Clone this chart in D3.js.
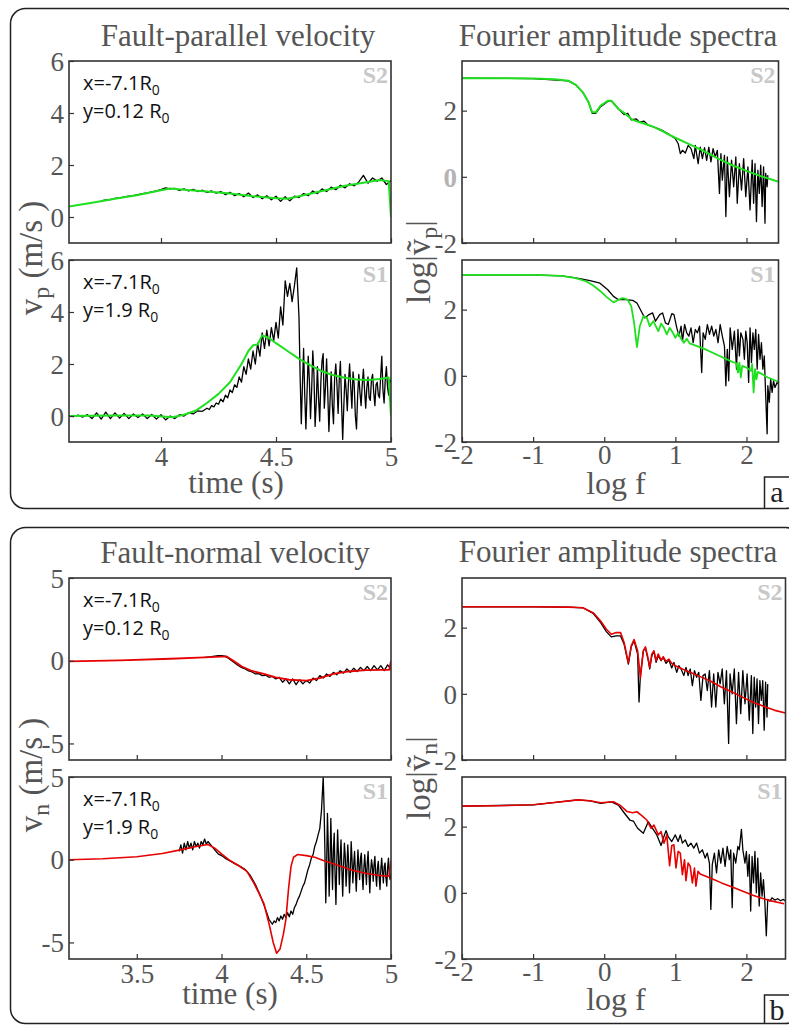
<!DOCTYPE html>
<html>
<head>
<meta charset="utf-8">
<script src="https://cdn.jsdelivr.net/npm/d3@7"></script>
<style>
body { margin: 0; background: #fff; }
svg { display: block; }
</style>
</head>
<body>
<svg id="fig" width="789" height="1026"></svg>
<script>
// ---- tick values ----
var vpTicks = [0, 2, 4, 6];
var vnTicks = [-5, 0, 5];
var fasTicks = [-2, 0, 2];
var fTicks = [-2, -1, 0, 1, 2];
var tTicksA = [4, 4.5, 5];
var tTicksB = [3.5, 4, 4.5, 5];

// ---- fault-parallel velocity, station S2 (time s, m/s) ----
var vpS2Syn = [[3.6,0.4],[3.7,0.55],[3.8,0.7],[3.9,0.85],[4.0,1.03],[4.04,1.1],[4.1,1.05],[4.2,0.98],[4.3,0.9],[4.4,0.8],[4.5,0.72],[4.55,0.7],[4.6,0.8],[4.7,1.0],[4.8,1.2],[4.9,1.35],[4.95,1.42],[4.99,1.38],[5.0,0.0]];
var vpS2Obs = [[3.74,0.62],[3.76,0.66],[3.78,0.67],[3.80,0.72],[3.82,0.73],[3.84,0.77],[3.86,0.8],[3.88,0.82],[3.90,0.86],[3.92,0.9],[3.94,0.93],[3.96,0.97],[3.98,1.0],[4.00,1.05],[4.02,1.12],[4.04,1.08],[4.06,1.1],[4.08,1.02],[4.10,1.08],[4.12,1.0],[4.14,1.06],[4.16,0.98],[4.18,1.03],[4.20,0.95],[4.22,1.0],[4.24,0.92],[4.26,0.98],[4.28,0.86],[4.30,0.95],[4.32,0.82],[4.34,0.9],[4.36,0.78],[4.38,0.92],[4.40,0.75],[4.42,0.85],[4.44,0.7],[4.46,0.82],[4.48,0.66],[4.50,0.8],[4.52,0.6],[4.54,0.78],[4.56,0.62],[4.58,0.8],[4.60,0.75],[4.62,0.9],[4.64,0.82],[4.66,1.0],[4.68,0.9],[4.70,1.08],[4.72,0.98],[4.74,1.15],[4.76,1.05],[4.78,1.22],[4.80,1.12],[4.82,1.28],[4.84,1.2],[4.86,1.35],[4.88,1.6],[4.90,1.3],[4.92,1.5],[4.94,1.38],[4.96,1.5],[4.98,1.25],[5.00,1.4]];

// ---- fault-parallel velocity, station S1 ----
var vpS1Syn = [[3.6,0.0],[3.8,0.02],[3.95,0.02],[4.05,-0.05],[4.1,0.05],[4.15,0.2],[4.2,0.5],[4.25,0.85],[4.3,1.3],[4.35,2.0],[4.38,2.5],[4.4,2.72],[4.42,2.75],[4.44,3.1],[4.47,3.0],[4.5,2.8],[4.55,2.5],[4.6,2.2],[4.65,1.95],[4.7,1.72],[4.75,1.57],[4.8,1.47],[4.85,1.4],[4.9,1.38],[4.95,1.42],[4.99,1.48],[5.0,0.0]];
var vpS1Obs = [[3.60,0.02],[3.62,-0.02],[3.64,0.03],[3.66,-0.04],[3.68,0.05],[3.70,-0.1],[3.72,0.12],[3.74,-0.12],[3.76,0.15],[3.78,-0.1],[3.80,0.12],[3.82,-0.08],[3.84,0.1],[3.86,-0.1],[3.88,0.08],[3.90,-0.06],[3.92,0.08],[3.94,-0.1],[3.96,0.06],[3.98,-0.12],[4.00,0.05],[4.02,-0.15],[4.04,0.0],[4.06,-0.1],[4.08,0.05],[4.10,0.0],[4.12,0.12],[4.14,0.08],[4.16,0.2],[4.18,0.18],[4.20,0.3],
  [4.21,0.25],[4.22,0.4],[4.23,0.35],[4.24,0.5],[4.25,0.45],[4.26,0.65],[4.27,0.55],[4.28,0.8],[4.29,0.7],[4.30,1.0],[4.31,0.9],[4.32,1.2],[4.33,1.1],[4.34,1.5],[4.35,1.3],[4.36,1.9],[4.37,1.6],[4.38,2.2],[4.39,1.8],[4.40,2.5],[4.41,2.0],[4.42,2.8],[4.43,2.3],[4.44,3.2],[4.45,2.6],[4.46,3.3],[4.47,2.7],[4.48,3.4],[4.49,2.9],[4.50,3.6],[4.51,3.0],[4.52,4.2],[4.53,3.5],[4.54,5.2],[4.55,4.6],[4.56,5.1],[4.57,4.4],[4.58,5.0],[4.59,5.7],
  [4.600,3.8],[4.605,1.5],[4.610,-0.3],[4.615,1.2],[4.620,2.6],[4.625,0.8],[4.630,-0.5],[4.635,0.9],[4.640,2.3],[4.645,1.4],[4.650,-0.1],[4.655,1.0],[4.660,2.5],[4.665,1.6],[4.670,-0.4],[4.675,0.5],[4.680,1.9],[4.685,0.7],[4.690,-0.2],[4.695,1.3],[4.700,2.1],[4.705,2.4],[4.710,0.3],[4.715,1.1],[4.720,2.2],[4.725,0.9],[4.730,-0.6],[4.735,0.6],[4.740,1.7],[4.745,0.4],[4.750,-0.3],[4.755,1.5],[4.760,2.0],[4.765,1.2],[4.770,0.1],[4.775,1.4],[4.780,2.1],[4.785,0.5],[4.790,-0.9],[4.795,0.4],[4.800,1.6],[4.805,1.0],[4.810,0.2],[4.815,1.3],[4.820,2.0],[4.825,1.1],[4.830,0.3],[4.835,1.7],[4.840,1.2],[4.845,0.0],[4.850,-0.5],[4.855,0.8],[4.860,1.6],[4.865,0.9],[4.870,0.4],[4.875,1.2],[4.880,1.8],[4.885,1.0],[4.890,0.3],[4.895,1.1],[4.900,1.5],[4.905,0.7],[4.910,0.6],[4.915,1.4],[4.920,1.6],[4.925,0.9],[4.930,0.4],[4.935,1.2],[4.940,1.3],[4.945,0.8],[4.950,0.7],[4.955,1.5],[4.960,2.3],[4.965,1.0],[4.970,0.5],[4.975,1.4],[4.980,1.9],[4.985,1.1],[4.990,0.8],[4.995,1.4],[5.000,1.3]];

// ---- Fourier amplitude spectra of vp (log f, log|v|) ----
var fasVpS2Syn = [[-2,2.98],[-1.5,2.98],[-1,2.97],[-0.7,2.95],[-0.5,2.9],[-0.4,2.78],[-0.3,2.55],[-0.22,2.25],[-0.17,1.95],[-0.12,1.95],[-0.05,2.15],[0.05,2.3],[0.1,2.3],[0.2,2.05],[0.3,1.9],[0.4,1.72],[0.5,1.65],[0.6,1.58],[0.7,1.5],[0.8,1.4],[0.9,1.28],[1.0,1.18],[1.2,0.98],[1.4,0.78],[1.6,0.55],[1.8,0.35],[2.0,0.18],[2.2,0.02],[2.44,-0.14]];
var fasVpS2Obs = [[-2,2.98],[-1,2.97],[-0.5,2.9],[-0.4,2.78],[-0.3,2.55],[-0.22,2.25],[-0.17,1.92],[-0.12,1.92],[-0.05,2.12],[0.05,2.28],[0.1,2.3],[0.2,2.05],[0.28,1.88],[0.33,1.92],[0.38,1.72],[0.45,1.75],[0.5,1.65],[0.56,1.68],[0.62,1.56],[0.7,1.5],[0.8,1.42],[0.9,1.3],[1.0,1.15],[1.04,1.0],[1.07,0.7],[1.1,0.8],[1.14,0.72],[1.18,0.95],[1.22,0.85],[1.26,0.55],[1.28,0.95],[1.32,0.4],[1.35,0.9],[1.38,0.55],[1.41,0.88],[1.44,0.5],[1.47,0.9],[1.5,0.45],[1.53,0.85],[1.56,0.6],[1.59,0.8],[1.62,-0.5],[1.64,0.7],[1.66,-0.1],[1.69,0.65],[1.71,-1.2],[1.73,0.6],[1.76,-0.6],[1.79,0.5],[1.82,-0.3],[1.85,0.6],[1.87,-0.8],[1.9,0.4],[1.93,-0.4],[1.96,0.55],[1.99,-0.6],[2.02,0.3],[2.05,-1.0],[2.08,0.5],[2.1,-0.8],[2.12,0.4],[2.14,-1.35],[2.16,0.2],[2.18,-0.5],[2.2,0.35],[2.22,-0.9],[2.24,0.3],[2.26,-1.4],[2.27,0.1],[2.29,-0.3],[2.3,0.05]];
var fasVpS1Syn = [[-2,3.05],[-1.5,3.05],[-1,3.05],[-0.6,3.02],[-0.4,2.95],[-0.25,2.85],[-0.15,2.72],[-0.05,2.55],[0.04,2.37],[0.13,2.22],[0.2,2.3],[0.26,2.35],[0.33,2.3],[0.38,2.1],[0.42,1.6],[0.46,0.87],[0.5,1.5],[0.55,1.8],[0.6,1.75],[0.64,1.5],[0.69,1.65],[0.73,1.48],[0.76,1.35],[0.8,1.58],[0.84,1.45],[0.88,1.25],[0.92,1.45],[0.96,1.32],[1.0,1.15],[1.04,1.3],[1.08,1.12],[1.12,1.0],[1.16,1.12],[1.2,0.98],[1.4,0.82],[1.6,0.62],[1.8,0.42],[1.86,0.38],[1.88,0.1],[1.9,0.4],[1.92,-0.05],[1.94,0.3],[2.0,0.25],[2.06,0.15],[2.08,0.35],[2.1,-0.5],[2.12,0.2],[2.14,-0.1],[2.16,0.12],[2.22,0.05],[2.3,-0.05],[2.45,-0.18]];
var fasVpS1Obs = [[-2,3.05],[-1,3.05],[-0.6,3.02],[-0.4,2.96],[-0.2,2.88],[-0.06,2.8],[0.05,2.6],[0.13,2.4],[0.2,2.3],[0.3,2.3],[0.4,2.28],[0.46,2.2],[0.52,1.95],[0.57,1.75],[0.63,1.85],[0.68,1.9],[0.72,1.65],[0.78,1.85],[0.82,1.9],[0.86,1.6],[0.9,1.55],[0.95,1.88],[0.98,1.85],[1.02,1.45],[1.05,1.2],[1.08,1.5],[1.1,1.05],[1.13,1.55],[1.16,1.3],[1.19,1.2],[1.22,1.45],[1.25,1.0],[1.28,1.4],[1.31,1.3],[1.34,1.5],[1.37,0.1],[1.39,1.3],[1.42,1.1],[1.45,1.55],[1.48,1.25],[1.51,1.5],[1.54,1.2],[1.57,1.4],[1.6,1.0],[1.63,1.55],[1.66,1.2],[1.69,0.9],[1.71,-0.3],[1.73,0.8],[1.75,-0.15],[1.77,1.45],[1.8,0.8],[1.83,1.35],[1.86,0.2],[1.88,1.4],[1.9,0.6],[1.92,1.3],[1.95,1.1],[1.97,0.5],[1.99,1.35],[2.01,1.0],[2.03,-0.2],[2.05,1.45],[2.07,0.4],[2.09,1.3],[2.11,0.8],[2.13,1.4],[2.15,0.2],[2.17,1.25],[2.19,0.5],[2.21,1.0],[2.23,0.2],[2.25,0.6],[2.27,-0.6],[2.29,-1.75],[2.3,-0.3],[2.32,-0.8],[2.34,-0.1],[2.36,-0.5],[2.38,-0.15],[2.4,-0.35],[2.43,-0.2],[2.45,-0.25]];

// ---- fault-normal velocity ----
var vnS2Syn = [[3.1,-0.04],[3.4,0.02],[3.7,0.12],[3.9,0.2],[4.03,0.26],[4.07,0.0],[4.12,-0.35],[4.18,-0.62],[4.25,-0.8],[4.32,-1.0],[4.4,-1.15],[4.5,-1.2],[4.58,-1.05],[4.66,-0.8],[4.75,-0.65],[4.85,-0.57],[4.95,-0.55],[4.99,-0.55],[5.0,0.0]];
var vnS2Obs = [[3.90,0.2],[3.92,0.22],[3.94,0.24],[3.96,0.28],[3.98,0.3],[4.00,0.3],[4.02,0.28],[4.04,0.15],[4.06,0.0],[4.08,-0.15],[4.10,-0.3],[4.12,-0.42],[4.14,-0.5],[4.16,-0.62],[4.18,-0.68],[4.20,-0.8],[4.22,-0.78],[4.24,-0.9],[4.26,-0.88],[4.28,-1.0],[4.30,-0.95],[4.32,-1.1],[4.34,-1.0],[4.36,-1.3],[4.38,-1.1],[4.40,-1.4],[4.42,-1.1],[4.44,-1.45],[4.46,-1.15],[4.48,-1.4],[4.50,-1.2],[4.52,-1.35],[4.54,-1.05],[4.56,-1.2],[4.58,-0.9],[4.60,-1.05],[4.62,-0.8],[4.64,-0.95],[4.66,-0.7],[4.68,-0.85],[4.70,-0.6],[4.72,-0.75],[4.74,-0.5],[4.76,-0.7],[4.78,-0.45],[4.80,-0.65],[4.82,-0.4],[4.84,-0.6],[4.86,-0.35],[4.88,-0.6],[4.90,-0.3],[4.92,-0.55],[4.94,-0.3],[4.96,-0.6],[4.98,-0.25],[5.00,-0.5]];
var vnS1Syn = [[3.1,0.0],[3.3,0.06],[3.5,0.18],[3.65,0.38],[3.75,0.58],[3.85,0.8],[3.92,0.92],[3.96,0.7],[4.0,0.35],[4.05,-0.05],[4.1,-0.35],[4.15,-0.7],[4.19,-1.4],[4.22,-2.0],[4.25,-2.65],[4.28,-3.85],[4.305,-5.0],[4.325,-5.65],[4.345,-5.4],[4.365,-4.5],[4.38,-3.6],[4.395,-1.8],[4.41,-0.4],[4.425,0.15],[4.45,0.32],[4.5,0.25],[4.55,0.15],[4.6,-0.05],[4.66,-0.25],[4.72,-0.45],[4.78,-0.66],[4.85,-0.82],[4.92,-0.94],[4.99,-1.0],[5.0,-0.05]];
var vnS1Obs = [[3.75,0.5],[3.76,0.9],[3.77,0.4],[3.78,1.0],[3.79,0.6],[3.80,1.1],[3.81,0.7],[3.82,1.0],[3.83,0.6],[3.84,1.1],[3.85,0.8],[3.86,1.0],[3.87,0.7],[3.88,1.1],[3.89,0.9],[3.90,1.25],[3.91,0.95],[3.92,1.1],[3.94,0.85],[3.96,0.6],[3.98,0.35],[4.0,0.25],[4.02,0.1],[4.05,-0.08],[4.08,-0.25],[4.11,-0.4],[4.14,-0.6],[4.17,-0.95],[4.2,-1.5],[4.23,-2.2],[4.26,-3.0],[4.28,-3.6],[4.30,-3.9],[4.31,-3.7],[4.32,-3.8],[4.33,-3.5],[4.34,-3.7],[4.35,-3.4],[4.36,-3.6],[4.37,-3.3],[4.38,-3.5],[4.39,-3.2],[4.40,-3.45],[4.41,-3.1],[4.42,-3.3],[4.43,-2.9],[4.44,-2.7],[4.45,-2.4],[4.46,-2.2],[4.47,-1.9],[4.48,-1.6],[4.49,-1.4],[4.50,-1.0],[4.51,-0.6],[4.52,-0.3],[4.53,0.1],[4.54,0.3],[4.55,0.8],[4.56,1.1],[4.57,1.5],[4.58,1.9],[4.59,3.0],
  [4.600,5.0],[4.605,3.2],[4.610,0.5],[4.615,-2.6],[4.620,-0.5],[4.625,2.8],[4.630,0.8],[4.635,-2.2],[4.640,-0.3],[4.645,2.5],[4.650,0.2],[4.655,-1.8],[4.660,0.6],[4.665,1.6],[4.670,-0.9],[4.675,-2.7],[4.680,-0.2],[4.685,1.8],[4.690,0.3],[4.695,-1.5],[4.700,0.1],[4.705,1.2],[4.710,-0.6],[4.715,-2.2],[4.720,-0.4],[4.725,1.0],[4.730,0.2],[4.735,-1.6],[4.740,-0.5],[4.745,0.9],[4.750,-0.2],[4.755,-2.0],[4.760,-0.8],[4.765,1.1],[4.770,0.0],[4.775,-1.4],[4.780,-0.3],[4.785,0.5],[4.790,-0.7],[4.795,-1.9],[4.800,-0.6],[4.805,0.6],[4.810,-0.4],[4.815,-1.2],[4.820,0.1],[4.825,0.4],[4.830,-0.9],[4.835,-1.8],[4.840,-0.5],[4.845,0.3],[4.850,-0.6],[4.855,-1.5],[4.860,-0.2],[4.865,0.5],[4.870,-0.8],[4.875,-2.0],[4.880,-0.7],[4.885,0.0],[4.890,-0.4],[4.895,-1.3],[4.900,-0.3],[4.905,0.2],[4.910,-0.9],[4.915,-1.6],[4.920,-0.5],[4.925,-0.1],[4.930,-1.0],[4.935,-1.8],[4.940,-0.6],[4.945,0.1],[4.950,-0.7],[4.955,-1.4],[4.960,-0.4],[4.965,-0.2],[4.970,-1.1],[4.975,-1.6],[4.980,-0.5],[4.985,0.1],[4.990,-0.9],[4.995,-1.2],[5.000,-0.8]];

// ---- Fourier amplitude spectra of vn ----
var fasVnS2Syn = [[-2,2.63],[-1.5,2.63],[-1,2.63],[-0.5,2.62],[-0.3,2.6],[-0.15,2.44],[-0.05,2.2],[0.03,1.95],[0.1,1.8],[0.17,1.85],[0.23,1.85],[0.28,1.55],[0.34,0.94],[0.38,1.45],[0.42,1.64],[0.47,1.3],[0.51,0.48],[0.55,1.3],[0.58,1.42],[0.62,1.05],[0.64,0.8],[0.67,1.2],[0.7,1.3],[0.73,1.0],[0.76,1.2],[0.8,1.02],[0.83,1.12],[0.87,0.98],[0.91,1.05],[0.95,0.92],[1.0,0.85],[1.1,0.75],[1.2,0.66],[1.35,0.52],[1.5,0.38],[1.65,0.2],[1.82,0.03],[2.0,-0.16],[2.1,-0.26],[2.25,-0.38],[2.4,-0.5],[2.55,-0.58]];
var fasVnS2Obs = [[-2,2.63],[-1,2.63],[-0.5,2.62],[-0.3,2.6],[-0.15,2.42],[-0.05,2.15],[0.03,1.88],[0.1,1.72],[0.17,1.75],[0.23,1.75],[0.28,1.5],[0.34,0.9],[0.38,1.42],[0.42,1.6],[0.47,1.2],[0.49,-0.25],[0.51,0.6],[0.55,1.3],[0.58,1.38],[0.62,1.0],[0.64,0.75],[0.67,1.15],[0.7,1.28],[0.73,0.95],[0.76,1.15],[0.8,1.0],[0.83,1.1],[0.87,0.92],[0.91,1.02],[0.95,0.78],[0.98,0.95],[1.02,0.65],[1.05,0.85],[1.08,0.75],[1.12,0.55],[1.15,0.8],[1.18,0.55],[1.21,0.75],[1.24,0.25],[1.27,0.7],[1.3,0.5],[1.33,0.65],[1.36,-0.2],[1.39,0.55],[1.42,0.6],[1.45,0.1],[1.48,0.7],[1.51,-0.4],[1.54,0.6],[1.57,-0.4],[1.6,0.65],[1.63,0.3],[1.66,0.75],[1.69,-0.3],[1.72,0.7],[1.75,-1.5],[1.77,0.6],[1.8,0.0],[1.83,0.75],[1.86,-0.9],[1.89,0.65],[1.92,-0.6],[1.95,0.7],[1.98,-0.3],[2.01,0.6],[2.04,-0.8],[2.07,0.55],[2.09,-1.2],[2.11,0.5],[2.13,-0.4],[2.15,0.45],[2.17,-0.9],[2.19,0.4],[2.21,-0.2],[2.23,0.4],[2.25,-1.1],[2.27,0.35],[2.29,-0.7],[2.3,0.3]];
var fasVnS1Syn = [[-2,2.62],[-1.5,2.63],[-1,2.66],[-0.7,2.73],[-0.37,2.81],[-0.2,2.78],[-0.05,2.72],[0.13,2.75],[0.22,2.65],[0.32,2.46],[0.4,2.42],[0.46,2.45],[0.52,2.35],[0.6,2.2],[0.66,1.95],[0.7,2.05],[0.76,1.75],[0.8,1.85],[0.84,1.5],[0.88,1.75],[0.92,0.82],[0.95,1.42],[0.98,1.45],[1.01,0.75],[1.04,1.25],[1.07,1.2],[1.1,0.55],[1.13,1.0],[1.15,0.37],[1.18,0.9],[1.21,0.8],[1.24,0.3],[1.27,0.75],[1.29,0.2],[1.32,0.65],[1.35,0.57],[1.5,0.44],[1.65,0.3],[1.81,0.17],[1.95,0.05],[2.1,-0.08],[2.3,-0.22],[2.53,-0.33]];
var fasVnS1Obs = [[-2,2.62],[-1,2.66],[-0.37,2.81],[-0.2,2.78],[-0.05,2.7],[0.1,2.75],[0.2,2.65],[0.28,2.42],[0.36,2.2],[0.41,2.17],[0.47,1.95],[0.55,1.8],[0.62,2.15],[0.68,1.95],[0.74,1.75],[0.8,1.43],[0.84,1.7],[0.87,1.88],[0.9,1.7],[0.95,1.55],[1.0,1.75],[1.04,1.55],[1.07,1.75],[1.1,1.5],[1.14,1.6],[1.18,1.4],[1.22,1.5],[1.26,1.35],[1.3,1.5],[1.34,1.2],[1.38,1.3],[1.42,1.05],[1.45,1.2],[1.48,0.9],[1.5,-0.5],[1.52,0.85],[1.55,1.2],[1.58,0.6],[1.61,1.3],[1.64,0.9],[1.67,1.35],[1.7,0.8],[1.73,1.4],[1.76,1.0],[1.78,1.3],[1.8,-0.45],[1.82,1.2],[1.85,0.9],[1.88,1.4],[1.9,1.3],[1.93,1.92],[1.95,1.3],[1.98,0.9],[2.0,1.25],[2.02,0.5],[2.04,1.15],[2.06,-0.55],[2.08,1.1],[2.1,0.3],[2.12,1.25],[2.14,0.0],[2.16,1.05],[2.18,-0.4],[2.2,0.6],[2.22,-0.1],[2.24,0.4],[2.26,-0.3],[2.28,-1.3],[2.3,-0.2],[2.33,-0.25],[2.36,-0.15],[2.4,-0.22],[2.44,-0.18],[2.48,-0.24],[2.52,-0.2],[2.55,-0.25]];

var SERIF = "Liberation Serif";
var SANS = "Open Sans";
var grey = "#555";
var green = "#1ee01e", red = "#e60000";

var svg = d3.select("#fig");
var clipCount = 0;

// rounded panel frames with the letter box in the corner
function panelFrame(top, height, letter, boxTop) {
	svg.append("rect")
		.attr("x", 10.5).attr("y", top)
		.attr("width", 790).attr("height", height)
		.attr("rx", 15)
		.attr("fill", "none").attr("stroke", "#222").attr("stroke-width", 1.5);
	svg.append("path")
		.attr("d", "M764.5," + (top + height) + "V" + boxTop + "H800")
		.attr("fill", "none").attr("stroke", "#222").attr("stroke-width", 1.5);
	svg.append("text")
		.attr("font-family", SERIF)
		.attr("x", 777).attr("y", boxTop + 25)
		.attr("text-anchor", "middle")
		.attr("font-size", 30).attr("fill", "#222")
		.text(letter);
}

panelFrame(8.5, 500, "a", 477);
panelFrame(527.5, 496, "b", 995);

function drawPlot(o) {
	var g = svg.append("g").attr("transform", "translate(" + o.left + "," + o.top + ")");
	var x = d3.scaleLinear().domain(o.xDomain).range([0, o.width]);
	var y = d3.scaleLinear().domain(o.yDomain).range([o.height, 0]);
	var id = "clip" + (clipCount++);

	g.append("clipPath").attr("id", id)
		.append("rect").attr("width", o.width).attr("height", o.height);

	var line = d3.line().x(function(d) { return x(d[0]); }).y(function(d) { return y(d[1]); });
	var lines = g.append("g").attr("clip-path", "url(#" + id + ")");
	o.series.forEach(function(s) {
		lines.append("path")
			.datum(s.data)
			.attr("d", line)
			.attr("fill", "none")
			.attr("stroke", s.color)
			.attr("stroke-width", s.width)
			.attr("stroke-linejoin", "round");
	});

	var xAxis = g.append("g").attr("transform", "translate(0," + o.height + ")")
		.call(d3.axisBottom(x).tickValues(o.xTicks).tickSizeInner(-5).tickSizeOuter(0)
			.tickFormat(o.xLabels ? function(d) { return String(d); } : ""));
	var yAxis = g.append("g")
		.call(d3.axisLeft(y).tickValues(o.yTicks).tickSizeInner(-5).tickSizeOuter(0)
			.tickFormat(o.yLabels ? function(d) { return String(d); } : ""));

	[xAxis, yAxis].forEach(function(a) {
		a.attr("font-family", SERIF).attr("font-size", 27);
		a.select(".domain").remove();
		a.selectAll(".tick line").attr("stroke", "#333").attr("stroke-width", 1.2);
		a.selectAll(".tick text").attr("fill", grey);
	});
	xAxis.selectAll(".tick text").attr("y", o.xLabelY).attr("dy", 0);
	yAxis.selectAll(".tick text").attr("x", -5).attr("dy", "0.34em");
	if (o.fadedTick !== undefined) {
		yAxis.selectAll(".tick").filter(function(d) { return d === o.fadedTick; })
			.select("text").attr("fill", "#b4b4b4").attr("font-weight", "bold");
	}

	g.append("rect")
		.attr("width", o.width).attr("height", o.height)
		.attr("fill", "none").attr("stroke", "#333").attr("stroke-width", 1.6);

	g.append("text")
		.attr("font-family", SERIF)
		.attr("x", o.width - 3).attr("y", 22)
		.attr("text-anchor", "end")
		.attr("font-size", 24).attr("font-weight", "bold")
		.attr("fill", "#c8c8c8")
		.text(o.station);

	if (o.pos) {
		[0, 1].forEach(function(i) {
			var t = g.append("text")
				.attr("font-family", SANS)
				.attr("x", 14).attr("y", 29 + i * 28)
				.attr("font-size", 20).attr("fill", "#111");
			t.append("tspan").text(i === 0 ? "x=-7.1R" : "y=" + o.pos + " R");
			t.append("tspan").attr("dy", 5).attr("font-size", 14).text("0");
		});
	}
	return g;
}

var colL = 69, colR = 462, plotW = 322, plotH = 182;

// panel a
drawPlot({left: colL, top: 61, width: plotW, height: plotH, xDomain: [3.6, 5], yDomain: [-1, 6],
	xTicks: tTicksA, yTicks: vpTicks, xLabels: false, yLabels: true, xLabelY: 24, station: "S2", pos: "0.12",
	series: [{data: vpS2Obs, color: "#000", width: 1.3}, {data: vpS2Syn, color: green, width: 2}]});
drawPlot({left: colL, top: 260, width: plotW, height: plotH, xDomain: [3.6, 5], yDomain: [-1, 6],
	xTicks: tTicksA, yTicks: vpTicks, xLabels: true, yLabels: true, xLabelY: 24, station: "S1", pos: "1.9",
	series: [{data: vpS1Obs, color: "#000", width: 1.3}, {data: vpS1Syn, color: green, width: 2}]});
drawPlot({left: colR, top: 61, width: 316.5, height: plotH, xDomain: [-2, 2.45], yDomain: [-2, 3.5],
	xTicks: fTicks, yTicks: fasTicks, xLabels: false, yLabels: true, xLabelY: 22, station: "S2", fadedTick: 0,
	series: [{data: fasVpS2Obs, color: "#000", width: 1.3}, {data: fasVpS2Syn, color: green, width: 2}]});
drawPlot({left: colR, top: 260, width: 316.5, height: plotH, xDomain: [-2, 2.45], yDomain: [-2, 3.5],
	xTicks: fTicks, yTicks: fasTicks, xLabels: true, yLabels: true, xLabelY: 22, station: "S1",
	series: [{data: fasVpS1Obs, color: "#000", width: 1.3}, {data: fasVpS1Syn, color: green, width: 1.8}]});

// panel b
drawPlot({left: colL, top: 578, width: plotW, height: plotH, xDomain: [3.1, 5], yDomain: [-6, 5],
	xTicks: tTicksB, yTicks: vnTicks, xLabels: false, yLabels: true, xLabelY: 24, station: "S2", pos: "0.12",
	series: [{data: vnS2Obs, color: "#000", width: 1.3}, {data: vnS2Syn, color: red, width: 1.8}]});
drawPlot({left: colL, top: 777, width: plotW, height: plotH, xDomain: [3.1, 5], yDomain: [-6, 5],
	xTicks: tTicksB, yTicks: vnTicks, xLabels: true, yLabels: true, xLabelY: 24, station: "S1", pos: "1.9",
	series: [{data: vnS1Obs, color: "#000", width: 1.3}, {data: vnS1Syn, color: red, width: 1.6}]});
drawPlot({left: colR, top: 578, width: 323.5, height: plotH, xDomain: [-2, 2.55], yDomain: [-2, 3.5],
	xTicks: fTicks, yTicks: fasTicks, xLabels: false, yLabels: true, xLabelY: 22, station: "S2",
	series: [{data: fasVnS2Obs, color: "#000", width: 1.3}, {data: fasVnS2Syn, color: red, width: 1.6}]});
drawPlot({left: colR, top: 777, width: 323.5, height: plotH, xDomain: [-2, 2.55], yDomain: [-2, 3.5],
	xTicks: fTicks, yTicks: fasTicks, xLabels: true, yLabels: true, xLabelY: 22, station: "S1",
	series: [{data: fasVnS1Obs, color: "#000", width: 1.3}, {data: fasVnS1Syn, color: red, width: 1.6}]});

// titles and axis labels
function label(txt, x, y, size) {
	return svg.append("text")
		.attr("font-family", SERIF)
		.attr("x", x).attr("y", y)
		.attr("text-anchor", "middle")
		.attr("font-size", size).attr("fill", grey)
		.text(txt);
}
label("Fault-parallel velocity", 238, 46, 31);
label("Fourier amplitude spectra", 618, 46, 31);
label("Fault-normal velocity", 235, 563, 31);
label("Fourier amplitude spectra", 618, 562, 31);
label("time (s)", 236, 493, 31);
label("log f", 616, 494, 32);
label("time (s)", 230, 1004, 31);
label("log f", 616, 1010, 32);

function yLabel(cx, cy, pre, sub, post) {
	var t = svg.append("text")
		.attr("font-family", SERIF)
		.attr("transform", "translate(" + cx + "," + cy + ") rotate(-90)")
		.attr("text-anchor", "middle")
		.attr("font-size", 33).attr("fill", grey);
	t.append("tspan").text(pre);
	t.append("tspan").attr("dy", 7).attr("font-size", 24).text(sub);
	t.append("tspan").attr("dy", -7).text(post);
}
yLabel(42, 258, "v", "p", " (m/s )");
yLabel(42, 775, "v", "n", " (m/s )");
yLabel(430, 262, "log|\u1E7D", "p", "|");
yLabel(430, 778, "log|\u1E7D", "n", "|");
</script>
</body>
</html>
